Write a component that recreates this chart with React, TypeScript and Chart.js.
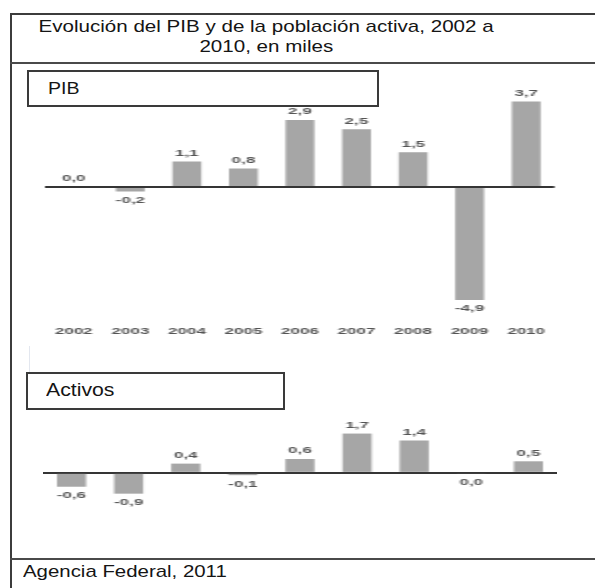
import React, { useEffect, useRef } from 'react';
import { Chart, registerables } from 'chart.js';

Chart.register(...registerables);

const years = ['2002', '2003', '2004', '2005', '2006', '2007', '2008', '2009', '2010'];
const pibValues = [0.0, -0.2, 1.1, 0.8, 2.9, 2.5, 1.5, -4.9, 3.7];
const activosValues = [-0.6, -0.9, 0.4, -0.1, 0.6, 1.7, 1.4, -0.04, 0.5];

const titleLines = ['Evolución del PIB y de la población activa, 2002 a', '2010, en miles'];
const pibLabel = 'PIB';
const activosLabel = 'Activos';
const sourceText = 'Agencia Federal, 2011';

const FONT = '"Liberation Sans", Arial, Helvetica, sans-serif';

const formatValue = (v: number) => (Math.abs(v) < 0.05 ? '0,0' : v.toFixed(1).replace('.', ','));

const valueLabels = {
  id: 'valueLabels',
  afterDatasetsDraw(chart: any) {
    const ctx = chart.ctx;
    const meta = chart.getDatasetMeta(0);
    const data = chart.data.datasets[0].data as number[];
    ctx.save();
    ctx.font = `bold 8.5px ${FONT}`;
    ctx.fillStyle = '#555555';
    ctx.textAlign = 'center';
    ctx.textBaseline = 'middle';
    meta.data.forEach((bar: any, i: number) => {
      const v = data[i];
      const y = v >= 0 ? bar.y - 8 : bar.y + 9;
      ctx.fillText(formatValue(v), bar.x, y);
    });
    ctx.restore();
  },
};

type PanelProps = {
  values: number[];
  top: number;
  height: number;
  padTop: number;
  padBottom: number;
  min: number;
  max: number;
  showX: boolean;
};

function BarPanel({ values, top, height, padTop, padBottom, min, max, showX }: PanelProps) {
  const ref = useRef<HTMLCanvasElement>(null);
  useEffect(() => {
    if (!ref.current) return;
    const chart = new Chart(ref.current, {
      type: 'bar',
      data: {
        labels: years,
        datasets: [
          {
            data: values,
            backgroundColor: '#a6a6a6',
            borderWidth: 0,
            categoryPercentage: 1,
            barPercentage: 0.51,
          },
        ],
      },
      options: {
        responsive: false,
        animation: false,
        devicePixelRatio: 1,
        layout: { padding: { top: padTop, bottom: padBottom, left: 0, right: 0 } },
        plugins: { legend: { display: false }, tooltip: { enabled: false }, title: { display: false } },
        scales: {
          x: {
            display: showX,
            grid: { display: false, drawTicks: false },
            border: { display: false },
            ticks: {
              font: { family: FONT, size: 8.5, weight: 'bold' },
              color: '#555555',
              padding: 6,
              maxRotation: 0,
              autoSkip: false,
            },
            afterFit: (scale: any) => {
              if (showX) scale.height = 20;
            },
          },
          y: {
            display: true,
            min,
            max,
            ticks: { display: false, stepSize: 1 },
            grid: {
              drawTicks: false,
              color: (c: any) => (c.tick && c.tick.value === 0 ? '#353535' : 'rgba(0,0,0,0)'),
              lineWidth: 2,
            },
            border: { display: false },
          },
        },
      },
      plugins: [valueLabels],
    } as any);
    return () => chart.destroy();
  }, []);
  return (
    <canvas
      ref={ref}
      width={257}
      height={height}
      style={{
        position: 'absolute',
        left: 43,
        top,
        width: 257,
        height,
        transform: 'scaleX(2)',
        transformOrigin: '0 0',
      }}
    />
  );
}

const line = (left: number, top: number, width: number, height: number, color = '#3c3c3c') => (
  <div style={{ position: 'absolute', left, top, width, height, background: color }} />
);

export default function App() {
  return (
    <div
      style={{
        position: 'absolute',
        left: 0,
        top: 0,
        width: 595,
        height: 588,
        background: '#ffffff',
        overflow: 'hidden',
        fontFamily: FONT,
        color: '#151515',
      }}
    >
      {line(10, 13, 2, 575)}
      {line(10, 13, 585, 2)}
      {line(10, 62, 585, 2, '#4a4a4a')}
      {line(10, 558, 585, 2, '#4a4a4a')}
      {line(29, 346, 1, 26, '#e3e7ef')}

      <div
        style={{
          position: 'absolute',
          left: 10,
          top: 17,
          width: 512,
          textAlign: 'center',
          fontSize: 17,
          lineHeight: '20px',
        }}
      >
        {titleLines.map((t) => (
          <div key={t}>
            <span style={{ display: 'inline-block', transform: 'scaleX(1.21)', transformOrigin: '50% 50%', whiteSpace: 'nowrap' }}>
              {t}
            </span>
          </div>
        ))}
      </div>

      <div
        style={{
          position: 'absolute',
          left: 27,
          top: 70,
          width: 352,
          height: 37,
          boxSizing: 'border-box',
          border: '2px solid #3a3a3a',
        }}
      />
      <div
        style={{
          position: 'absolute',
          left: 48,
          top: 79,
          fontSize: 17,
          lineHeight: '20px',
          transform: 'scaleX(1.15)',
          transformOrigin: '0 50%',
          whiteSpace: 'nowrap',
        }}
      >
        {pibLabel}
      </div>

      <div
        style={{
          position: 'absolute',
          left: 26,
          top: 372,
          width: 259,
          height: 38,
          boxSizing: 'border-box',
          border: '2px solid #3a3a3a',
        }}
      />
      <div
        style={{
          position: 'absolute',
          left: 46,
          top: 380,
          fontSize: 18,
          lineHeight: '20px',
          transform: 'scaleX(1.18)',
          transformOrigin: '0 50%',
          whiteSpace: 'nowrap',
        }}
      >
        {activosLabel}
      </div>

      <BarPanel values={pibValues} top={84} height={257} padTop={6} padBottom={0} min={-5.81} max={4.2} showX={true} />
      <BarPanel values={activosValues} top={412} height={106} padTop={10} padBottom={10} min={-1.52} max={2.2} showX={false} />

      <div
        style={{
          position: 'absolute',
          left: 23,
          top: 562,
          fontSize: 17,
          lineHeight: '20px',
          transform: 'scaleX(1.2)',
          transformOrigin: '0 50%',
          whiteSpace: 'nowrap',
        }}
      >
        {sourceText}
      </div>
    </div>
  );
}
